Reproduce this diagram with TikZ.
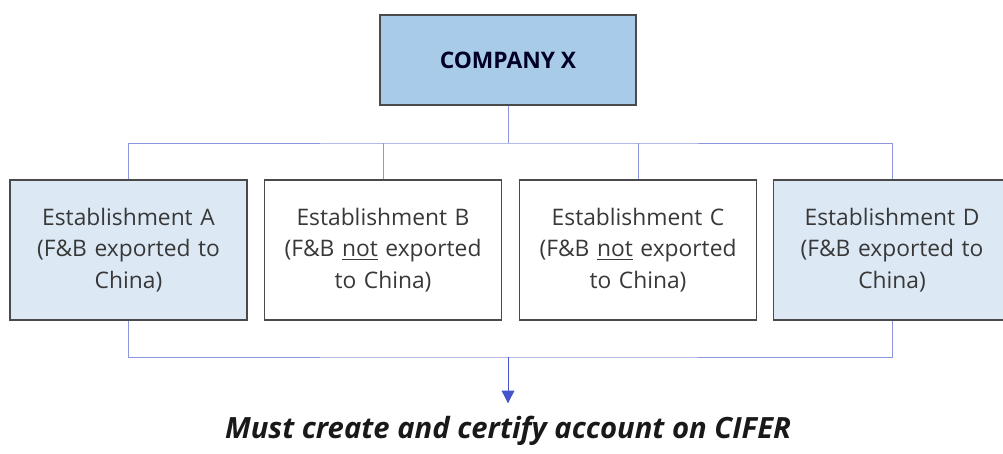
\documentclass[tikz,border=0pt]{standalone}
\usepackage{fontspec}
\setmainfont{Open Sans}
\usepackage{xcolor}
\definecolor{Edge}{HTML}{4A4A4A}
\definecolor{Head}{HTML}{A9CBEA}
\definecolor{Pale}{HTML}{DCE9F5}
\definecolor{Wire}{HTML}{8C96DA}
\definecolor{Tip}{HTML}{4455CC}
\definecolor{Ink}{HTML}{383838}
\usetikzlibrary{arrows.meta,positioning}
\tikzset{
  unit/.style={draw=Edge,line width=0.8pt,minimum width=5.925cm,minimum height=3.5cm,
    text width=5.4cm,align=center,font=\fontsize{16.2}{22.5}\selectfont,text=Ink},
  export/.style={unit,fill=Pale},
  link/.style={draw=Wire,line width=0.7pt},
  flow/.style={link,draw=Tip,-{Triangle[length=3.2mm,width=3.2mm]}}
}

\begin{document}
\begin{tikzpicture}[x=0.025cm,y=-0.025cm]
  \useasboundingbox (0,0) rectangle (1003,453);
  \node[draw=Edge,fill=Head,line width=0.8pt,minimum width=6.4cm,minimum height=2.25cm,
    font=\fontsize{16.2}{20}\selectfont\bfseries,text=black!85!blue] (company) at (508,60) {COMPANY X};
  \node[export] (estA) at (128.5,250) {Establishment A\\(F\&B exported to\\China)};
  \node[unit] (estB) at (383,250) {Establishment B\\(F\&B \underline{not} exported\\to China)};
  \node[unit] (estC) at (638,250) {Establishment C\\(F\&B \underline{not} exported\\to China)};
  \node[export] (estD) at (892,250) {Establishment D\\(F\&B exported to\\China)};
  \coordinate (split) at (508,143);
  \coordinate (join) at (508,357);
  \node[font=\fontsize{20.8}{24}\selectfont\bfseries\itshape,text=black!90] (cifer) at (508,431)
    {Must create and certify account on CIFER};
  % tree above
  \draw[link] (company) -- (split);
  \draw[link] (estA.north) |- (split) -| (estD.north);
  \draw[link] (estB.north) -- (estB.north |- split);
  \draw[link] (estC.north) -- (estC.north |- split);
  % tree below
  \draw[link] (estA.south) |- (join) -| (estD.south);
  \draw[flow] (join) -- ([yshift=2mm]cifer.north);
\end{tikzpicture}
\end{document}
